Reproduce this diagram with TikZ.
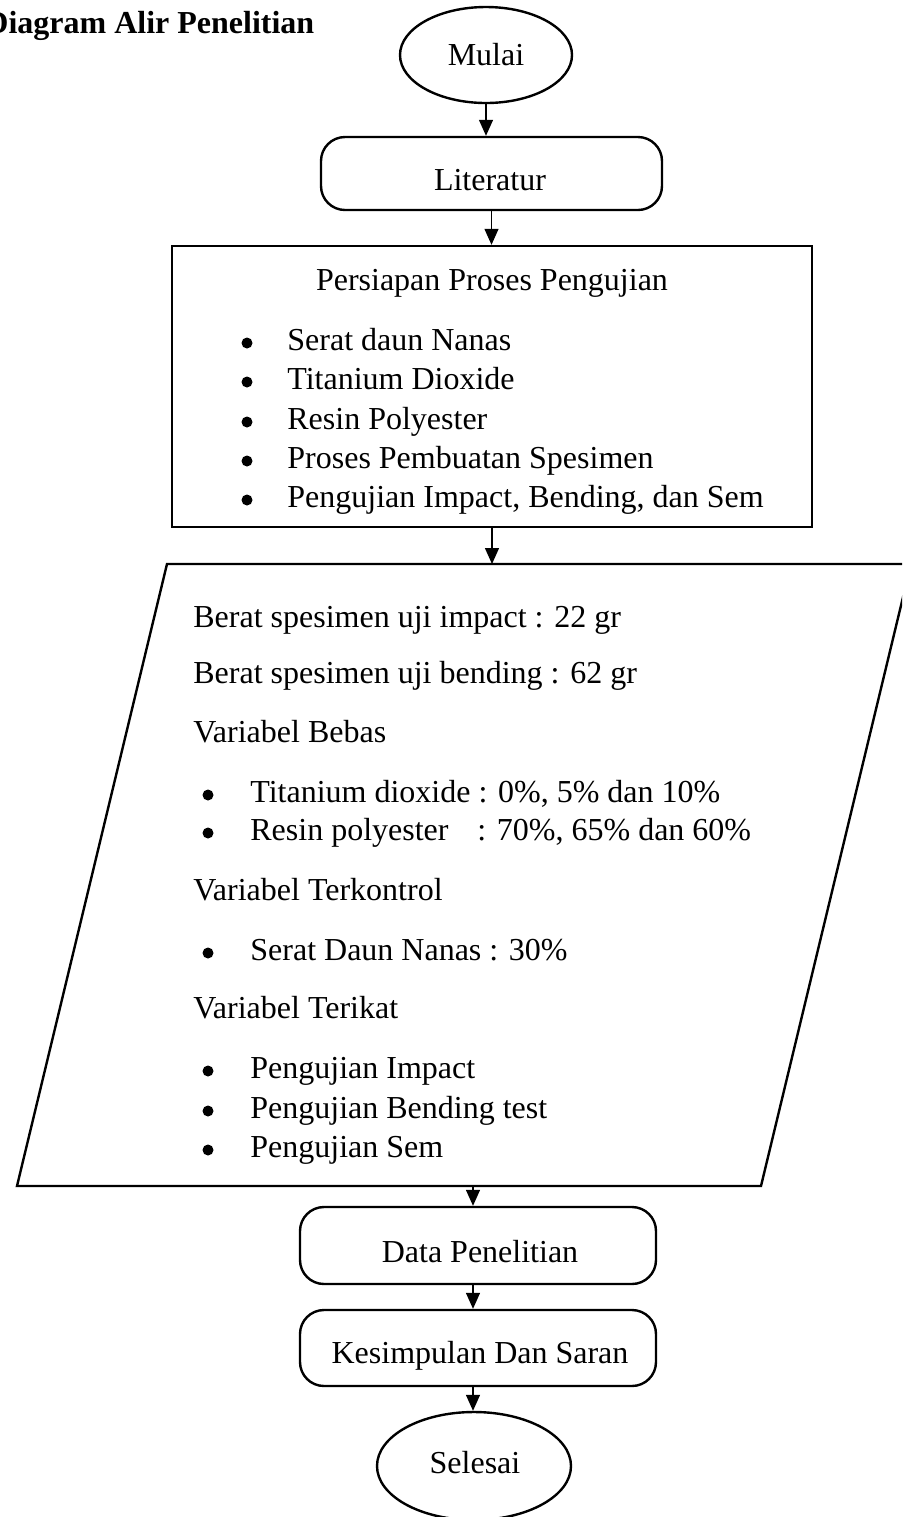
\documentclass[tikz,border=0pt]{standalone}
\usepackage{fontspec}
\setmainfont{Liberation Serif}
\usetikzlibrary{arrows.meta,shapes.geometric}
\begin{document}
\begin{tikzpicture}[x=0.5pt,y=-0.5pt,
  every node/.style={font=\fontsize{16}{19}\selectfont},
  shapebox/.style={draw, line width=1.2pt, inner sep=0pt},
  txt/.style={inner sep=0pt, anchor=base west},
  ctxt/.style={inner sep=0pt, anchor=base},
  dot/.style={circle, fill, inner sep=0pt, minimum size=5.5pt},
  arr/.style={-{Triangle[length=8pt,width=7pt]}, line width=0.65pt}]
\useasboundingbox (0,0) rectangle (902,1517);
\clip (0,0) rectangle (902,1517);

% title
\node[txt, font=\fontsize{16}{19}\selectfont\bfseries] (title) at (-15,33) {Diagram Alir Penelitian};

% start
\node[shapebox, ellipse, minimum width=86pt, minimum height=48pt] (mulai) at (486,55) {};
\node[ctxt] (tmulai) at (486,65) {Mulai};

% literatur
\node[shapebox, rectangle, rounded corners=12pt, minimum width=170.5pt, minimum height=36.5pt] (lit) at (491.5,173.5) {};
\node[ctxt] (tlit) at (490,190) {Literatur};

% persiapan
\node[shapebox, rectangle, minimum width=320pt, minimum height=140.5pt] (prep) at (492,386.5) {};
\node[ctxt] (tprep) at (492,290) {Persiapan Proses Pengujian};
\node[dot] (pb1) at (247,343) {};
\node[txt] (pt1) at (287,350) {Serat daun Nanas};
\node[dot] (pb2) at (247,382) {};
\node[txt] (pt2) at (287,389) {Titanium Dioxide};
\node[dot] (pb3) at (247,422) {};
\node[txt] (pt3) at (287,429) {Resin Polyester};
\node[dot] (pb4) at (247,461) {};
\node[txt] (pt4) at (287,468) {Proses Pembuatan Spesimen};
\node[dot] (pb5) at (247,500) {};
\node[txt] (pt5) at (287,507) {Pengujian Impact, Bending, dan Sem};

% parallelogram (input/output)
\coordinate (pTL) at (167,564);
\coordinate (pTR) at (911,564);
\coordinate (pBR) at (761,1186);
\coordinate (pBL) at (17,1186);
\coordinate (paraTop) at (490,564);
\coordinate (paraBot) at (473,1186);
\draw[line width=1.2pt] (pTL) -- (pTR) -- (pBR) -- (pBL) -- cycle;

\node[txt] (q1) at (193,627) {Berat spesimen uji impact : 22 gr};
\node[txt] (q2) at (193,683) {Berat spesimen uji bending : 62 gr};
\node[txt] (q3) at (193,742) {Variabel Bebas};
\node[dot] (qb1) at (208,795) {};
\node[txt] (q4) at (250,802) {Titanium dioxide : 0\%, 5\% dan 10\%};
\node[dot] (qb2) at (208,833) {};
\node[txt] (q5) at (250,840) {Resin polyester};
\node[txt] (q5b) at (477,840) {: 70\%, 65\% dan 60\%};
\node[txt] (q6) at (193,900) {Variabel Terkontrol};
\node[dot] (qb3) at (208,953) {};
\node[txt] (q7) at (250,960) {Serat Daun Nanas : 30\%};
\node[txt] (q8) at (193,1018) {Variabel Terikat};
\node[dot] (qb4) at (208,1071) {};
\node[txt] (q9) at (250,1078) {Pengujian Impact};
\node[dot] (qb5) at (208,1111) {};
\node[txt] (q10) at (250,1118) {Pengujian Bending test};
\node[dot] (qb6) at (208,1150) {};
\node[txt] (q11) at (250,1157) {Pengujian Sem};

% data
\node[shapebox, rectangle, rounded corners=12pt, minimum width=178pt, minimum height=38.5pt] (data) at (478,1245.5) {};
\node[ctxt] (tdata) at (480,1262) {Data Penelitian};

% kesimpulan
\node[shapebox, rectangle, rounded corners=12pt, minimum width=178pt, minimum height=38pt] (kes) at (478,1348) {};
\node[ctxt] (tkes) at (480,1363) {Kesimpulan Dan Saran};

% end
\node[shapebox, ellipse, minimum width=97pt, minimum height=54pt] (sel) at (474,1466) {};
\node[ctxt] (tsel) at (475,1473) {Selesai};

% connectors
\draw[arr] (mulai.south) -- (mulai.south |- lit.north);
\draw[arr] (lit.south) -- (lit.south |- prep.north);
\draw[arr] (prep.south) -- (prep.south |- paraTop);
\draw[arr] (paraBot) -- (paraBot |- data.north);
\draw[arr] (data.south -| paraBot) -- (paraBot |- kes.north);
\draw[arr] (kes.south -| paraBot) -- (paraBot |- sel.north);
\end{tikzpicture}
\end{document}
